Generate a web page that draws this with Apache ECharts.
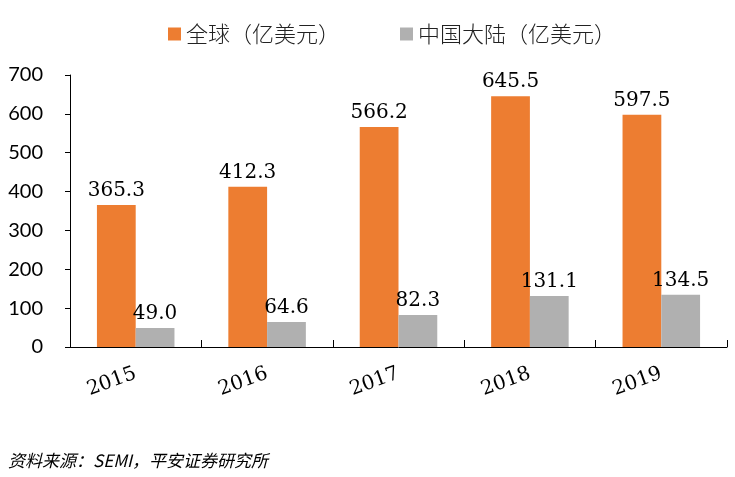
<!DOCTYPE html>
<html><head><meta charset="utf-8">
<script src="https://cdn.jsdelivr.net/npm/echarts@6/dist/echarts.min.js"></script>
<style>html,body{margin:0;padding:0;background:#fff;}#c{width:735px;height:477px;}</style>
</head><body><div id="c"></div>
<script>
var categories = ['2015','2016','2017','2018','2019'];
var globalValues = [365.3, 412.3, 566.2, 645.5, 597.5];
var chinaValues = [49.0, 64.6, 82.3, 131.1, 134.5];
var seriesNames = ['全球（亿美元）','中国大陆（亿美元）'];
var sourceText = '资料来源：SEMI，平安证券研究所';

var chart = echarts.init(document.getElementById('c'));
var labelStyle = {show:true, position:'top', distance:4, color:'#000', fontFamily:'"DejaVu Serif", "Liberation Serif", serif', fontSize:20,
  formatter:function(p){return p.value.toFixed(1);}};
chart.setOption({
  animation:false,
  backgroundColor:'#fff',
  legend:{top:18, left:163, itemGap:60, itemWidth:13, itemHeight:13, icon:'rect',
    textStyle:{fontFamily:'"Noto Sans CJK SC", sans-serif', fontSize:22, fontWeight:300, color:'#222'},
    data:seriesNames},
  grid:{left:70, right:8, top:75, bottom:130},
  xAxis:{type:'category', data:categories,
    axisLine:{lineStyle:{color:'#000', width:1}},
    axisTick:{show:true, inside:true, length:7, lineStyle:{color:'#000'}},
    axisLabel:{rotate:20, margin:26, color:'#000', fontFamily:'"DejaVu Serif", "Liberation Serif", serif', fontSize:20}},
  yAxis:{type:'value', min:0, max:700, interval:100,
    axisLine:{show:true, lineStyle:{color:'#000', width:1}},
    axisTick:{show:true, length:5, lineStyle:{color:'#000'}},
    splitLine:{show:false},
    axisLabel:{margin:27, color:'#000', fontFamily:'Lato, "Open Sans", sans-serif', fontSize:20}},
  graphic:[{type:'text', left:8, top:452, style:{text:sourceText, fill:'#000', fontStyle:'italic', fontSize:17, fontFamily:'"Noto Sans CJK SC", sans-serif'}}],
  series:[
    {name:seriesNames[0], type:'bar', data:globalValues, barGap:'0%', barCategoryGap:'41%', itemStyle:{color:'#ED7D31'}, label:labelStyle},
    {name:seriesNames[1], type:'bar', data:chinaValues, itemStyle:{color:'#B0B0B0'}, label:labelStyle}
  ]
});
</script></body></html>
